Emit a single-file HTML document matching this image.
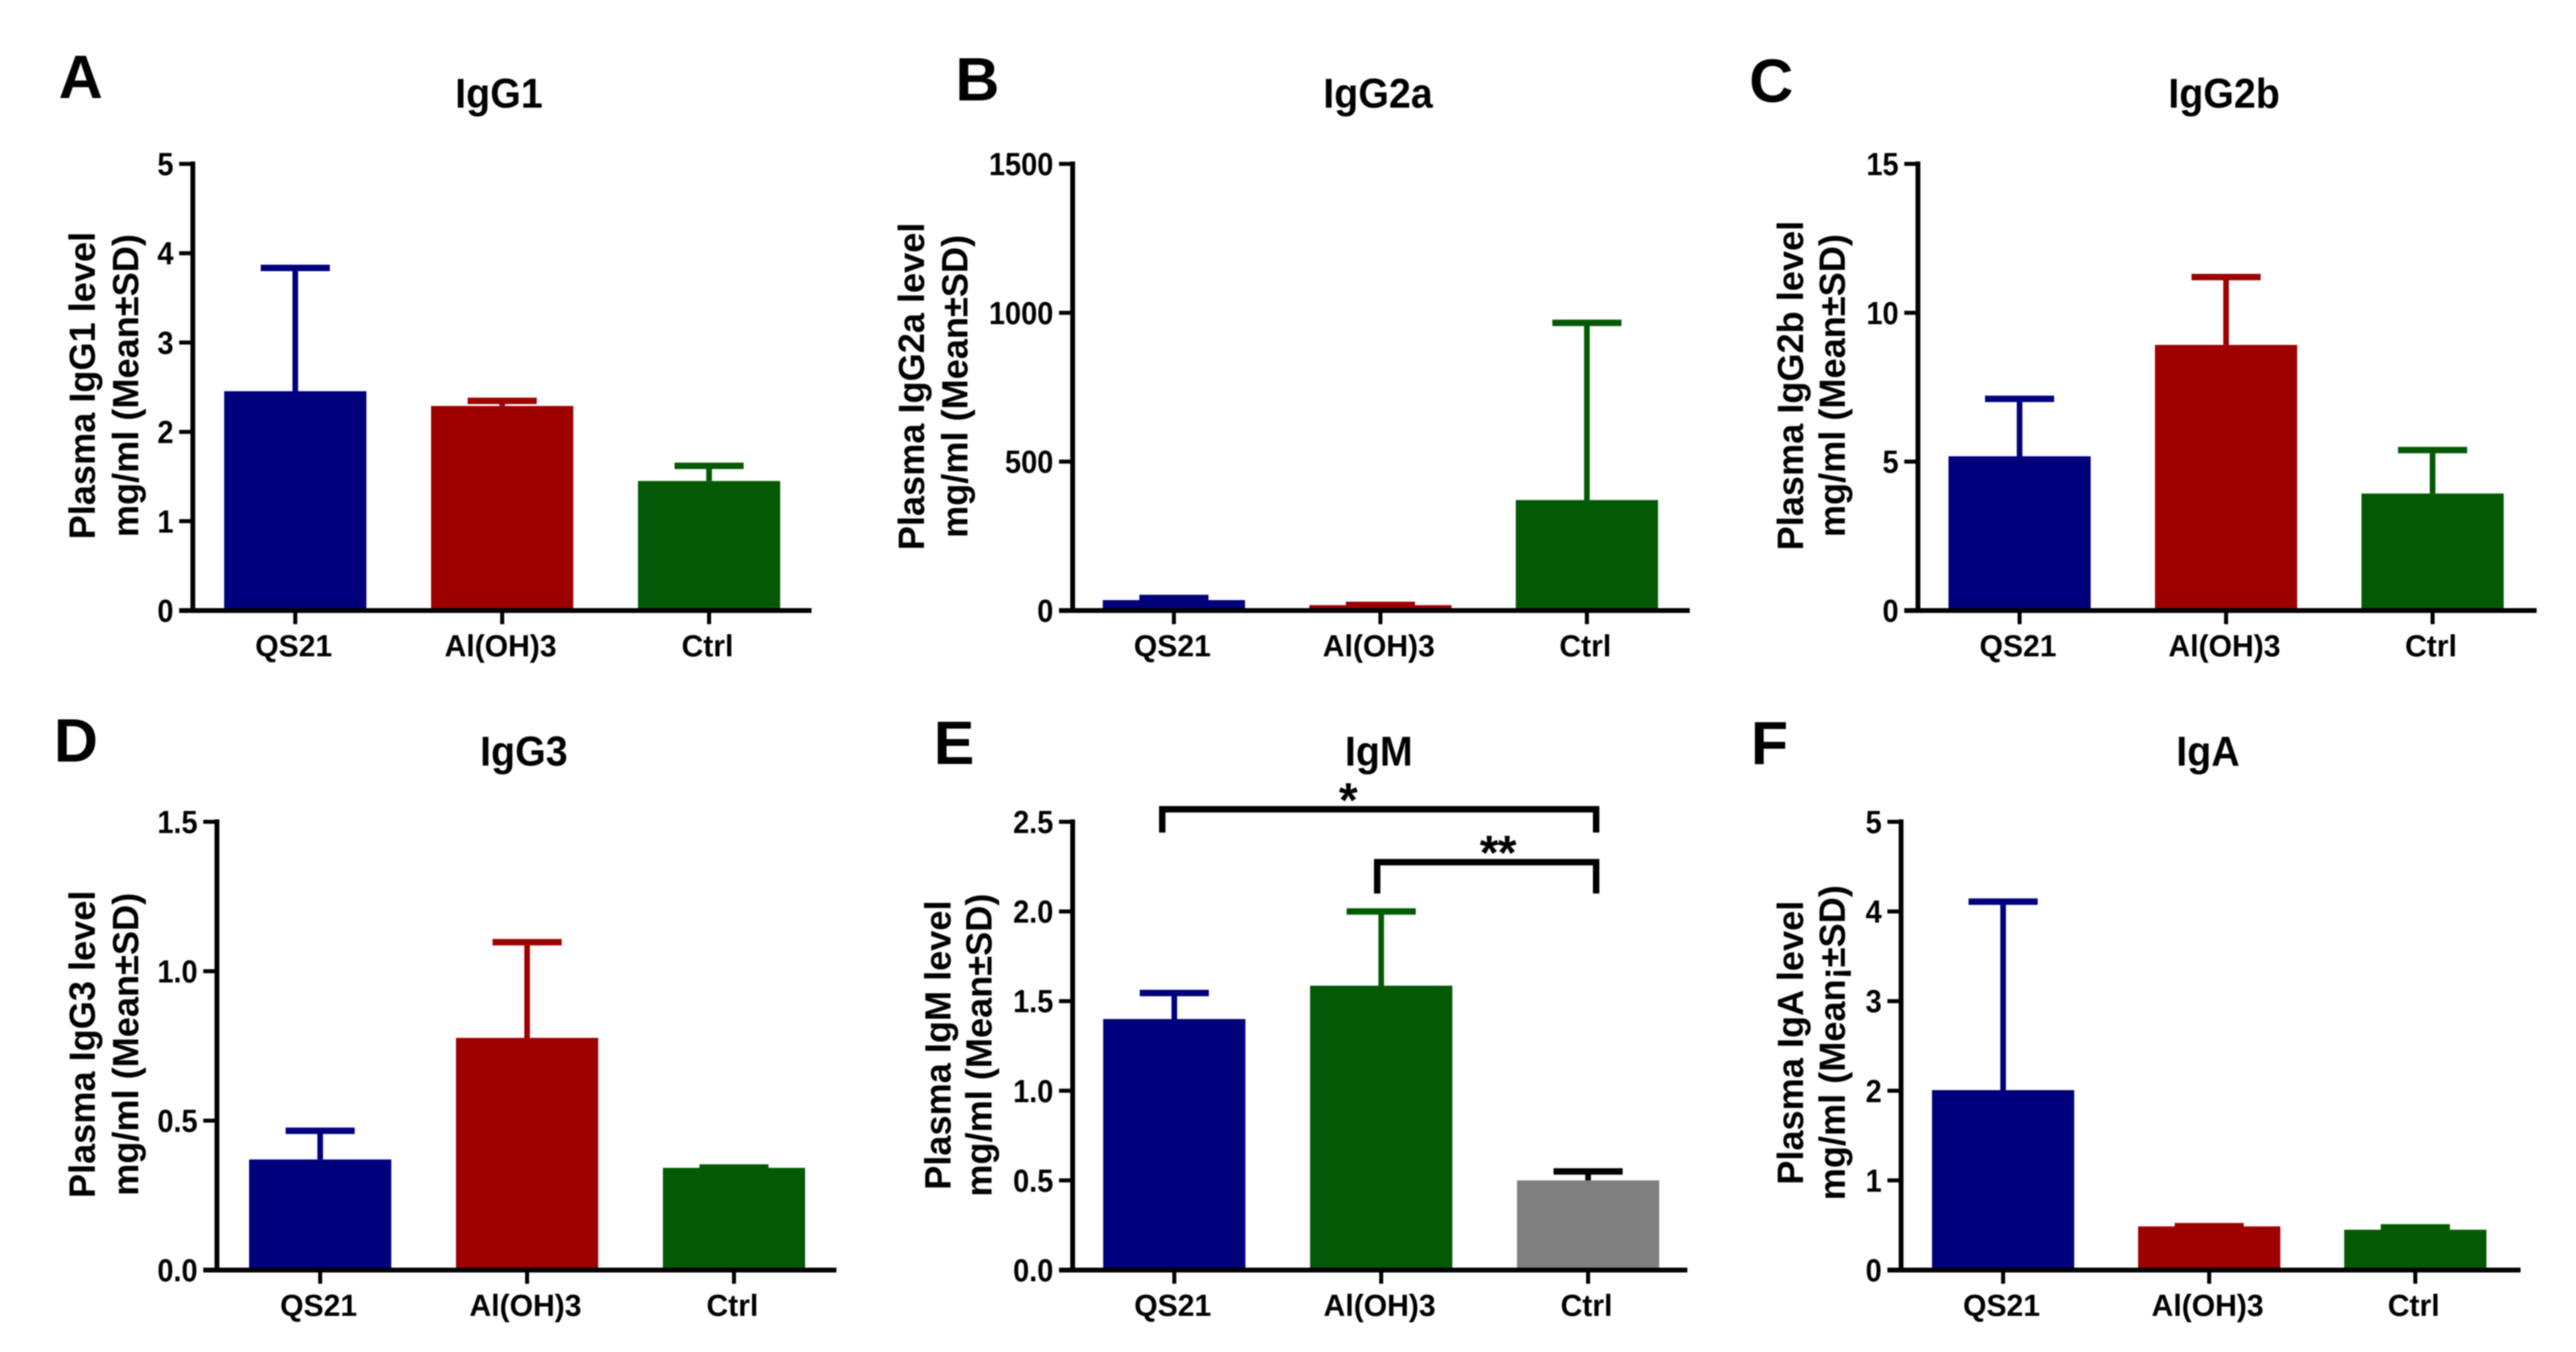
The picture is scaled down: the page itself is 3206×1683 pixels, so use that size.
<!DOCTYPE html>
<html lang="en">
<head>
<meta charset="utf-8">
<title>Plasma immunoglobulin levels</title>
<style>
  html, body { margin: 0; padding: 0; background: #fff; }
  body { width: 3206px; height: 1683px; overflow: hidden; }
  svg { display: block; filter: blur(0.7px); }
  text { font-family: "Liberation Sans", "DejaVu Sans", sans-serif; font-weight: bold; fill: #000; }
</style>
</head>
<body>
<svg id="figure" xmlns="http://www.w3.org/2000/svg" width="3206" height="1683" viewBox="0 0 3206 1683">
  <rect x="0" y="0" width="3206" height="1683" fill="#ffffff"></rect>
</svg>
<script>
// ---- chart data ----
const categories = ['QS21', 'Al(OH)3', 'Ctrl'];

const igg1Means = [2.455, 2.29, 1.45];
const igg1Sds = [1.38, 0.057, 0.17];
const igg1Ticks = ['0', '1', '2', '3', '4', '5'];

const igg2aMeans = [35, 18, 371];
const igg2aSds = [7, 1, 595];
const igg2aTicks = ['0', '500', '1000', '1500'];

const igg2bMeans = [5.18, 8.92, 3.93];
const igg2bSds = [1.93, 2.28, 1.46];
const igg2bTicks = ['0', '5', '10', '15'];

const igg3Means = [0.37, 0.777, 0.342];
const igg3Sds = [0.096, 0.32, 0.001];
const igg3Ticks = ['0.0', '0.5', '1.0', '1.5'];

const igmMeans = [1.40, 1.586, 0.50];
const igmSds = [0.145, 0.414, 0.05];
const igmTicks = ['0.0', '0.5', '1.0', '1.5', '2.0', '2.5'];

const igaMeans = [2.007, 0.487, 0.45];
const igaSds = [2.103, 0.003, 0.026];
const igaTicks = ['0', '1', '2', '3', '4', '5'];

const BLUE = '#00007d', RED = '#9e0000', GREEN = '#045a04', GRAY = '#808080', BLACK = '#000000';

// ---- panel definitions (layout kept apart from the values above) ----
const panels = [
  { key: 'igg1', letter: 'A', title: 'IgG1', means: igg1Means, sds: igg1Sds, ticks: igg1Ticks,
    line1: 'Plasma IgG1 level', line2: 'mg/ml (Mean\u00b1SD)',
    axisX: 240, axisEnd: 1010, top: 204, bottom: 760, firstBar: 367.5, step: 257.5,
    letterX: 73, letterY: 122, titleX: 621, titleY: 134, l1X: 118, l2X: 172, labelY: 480,
    fills: [BLUE, RED, GREEN], errs: [BLUE, RED, GREEN] },
  { key: 'igg2a', letter: 'B', title: 'IgG2a', means: igg2aMeans, sds: igg2aSds, ticks: igg2aTicks,
    line1: 'Plasma IgG2a level', line2: 'mg/ml (Mean\u00b1SD)',
    axisX: 1335, axisEnd: 2103, top: 204, bottom: 760, firstBar: 1461, step: 257,
    letterX: 1189, letterY: 125, titleX: 1715, titleY: 134, l1X: 1150, l2X: 1204, labelY: 481,
    fills: [BLUE, RED, GREEN], errs: [BLUE, RED, GREEN] },
  { key: 'igg2b', letter: 'C', title: 'IgG2b', means: igg2bMeans, sds: igg2bSds, ticks: igg2bTicks,
    line1: 'Plasma IgG2b level', line2: 'mg/ml (Mean\u00b1SD)',
    axisX: 2387, axisEnd: 3157, top: 204, bottom: 760, firstBar: 2513.5, step: 257,
    letterX: 2177, letterY: 127, titleX: 2768, titleY: 134, l1X: 2244, l2X: 2296, labelY: 480,
    fills: [BLUE, RED, GREEN], errs: [BLUE, RED, GREEN] },
  { key: 'igg3', letter: 'D', title: 'IgG3', means: igg3Means, sds: igg3Sds, ticks: igg3Ticks,
    line1: 'Plasma IgG3 level', line2: 'mg/ml (Mean\u00b1SD)',
    axisX: 270, axisEnd: 1041, top: 1023, bottom: 1581, firstBar: 398.5, step: 257.5,
    letterX: 67, letterY: 948, titleX: 652, titleY: 953, l1X: 118, l2X: 172, labelY: 1300,
    fills: [BLUE, RED, GREEN], errs: [BLUE, RED, GREEN] },
  { key: 'igm', letter: 'E', title: 'IgM', means: igmMeans, sds: igmSds, ticks: igmTicks,
    line1: 'Plasma IgM level', line2: 'mg/ml (Mean\u00b1SD)',
    axisX: 1335, axisEnd: 2100, top: 1023, bottom: 1581, firstBar: 1461.5, step: 257.5,
    letterX: 1162, letterY: 951, titleX: 1716, titleY: 953, l1X: 1183, l2X: 1234, labelY: 1301,
    fills: [BLUE, GREEN, GRAY], errs: [BLUE, GREEN, BLACK] },
  { key: 'iga', letter: 'F', title: 'IgA', means: igaMeans, sds: igaSds, ticks: igaTicks,
    line1: 'Plasma IgA level', line2: 'mg/ml (Mean\u00a1\u00b1SD)',
    axisX: 2366, axisEnd: 3137, top: 1023, bottom: 1581, firstBar: 2493, step: 256.5,
    letterX: 2179, letterY: 951, titleX: 2748, titleY: 953, l1X: 2244, l2X: 2296, labelY: 1298,
    fills: [BLUE, RED, GREEN], errs: [BLUE, RED, GREEN] }
];

// significance brackets on the IgM panel: value levels in axis units
const bracketFrom = [0, 1];
const bracketTo = [2, 2];
const bracketLevels = [2.57, 2.275];
const bracketDrops = [2.44, 2.10];
const bracketMarks = ['*', '**'];

const NS = 'http://www.w3.org/2000/svg';
const root = document.getElementById('figure');

function make(tag, attrs, parent, content) {
  const el = document.createElementNS(NS, tag);
  for (const k in attrs) el.setAttribute(k, attrs[k]);
  if (content !== undefined) el.textContent = content;
  parent.appendChild(el);
  return el;
}

function label(el, name) {
  
  
  return el;
}

function drawPanel(p) {
  const maxV = parseFloat(p.ticks[p.ticks.length - 1]);
  const y = v => p.bottom - (v / maxV) * (p.bottom - p.top);
  const x = i => p.firstBar + i * p.step;
  const g = label(make('g', {}, root), p.key + '-panel');

  label(make('text', { x: p.letterX, y: p.letterY, 'font-size': 76 }, g, p.letter), 'panel-letter-' + p.letter.toLowerCase());
  label(make('text', { transform: 'translate(' + p.titleX + ',' + p.titleY + ') scale(1,1.06)', 'text-anchor': 'middle', 'font-size': 49 }, g, p.title), p.key + '-title');

  label(make('text', { transform: 'translate(' + p.l1X + ',' + p.labelY + ') rotate(-90)', 'text-anchor': 'middle', 'font-size': 45 }, g, p.line1), p.key + '-y-axis-title');
  label(make('text', { transform: 'translate(' + p.l2X + ',' + p.labelY + ') rotate(-90)', 'text-anchor': 'middle', 'font-size': 45 }, g, p.line2), p.key + '-y-axis-unit');

  // bars and error bars
  p.means.forEach((m, i) => {
    const cx = x(i), hi = m + p.sds[i];
    label(make('rect', { x: cx - 88.5, y: y(m), width: 177, height: p.bottom - y(m), fill: p.fills[i] }, g), p.key + '-bar-' + i);
    label(make('line', { x1: cx, x2: cx, y1: y(m), y2: y(hi), stroke: p.errs[i], 'stroke-width': 7 }, g), p.key + '-error-stem-' + i);
    label(make('line', { x1: cx - 43, x2: cx + 43, y1: y(hi), y2: y(hi), stroke: p.errs[i], 'stroke-width': 8 }, g), p.key + '-error-cap-' + i);
  });

  // axes
  label(make('line', { x1: p.axisX, x2: p.axisX, y1: p.top - 3, y2: p.bottom + 3, stroke: '#000', 'stroke-width': 6 }, g), p.key + '-y-axis');
  label(make('line', { x1: p.axisX - 17, x2: p.axisEnd, y1: p.bottom, y2: p.bottom, stroke: '#000', 'stroke-width': 6 }, g), p.key + '-x-axis');

  p.ticks.forEach(t => {
    const ty = y(parseFloat(t));
    label(make('line', { x1: p.axisX - 17, x2: p.axisX, y1: ty, y2: ty, stroke: '#000', 'stroke-width': 5 }, g), p.key + '-y-tick-' + t);
    label(make('text', { transform: 'translate(' + (p.axisX - 24) + ',' + (ty + 14) + ') scale(0.95,1.05)', 'text-anchor': 'end', 'font-size': 38 }, g, t), p.key + '-y-tick-label-' + t);
  });

  categories.forEach((c, i) => {
    label(make('line', { x1: x(i), x2: x(i), y1: p.bottom, y2: p.bottom + 17, stroke: '#000', 'stroke-width': 5 }, g), p.key + '-x-tick-' + i);
    label(make('text', { transform: 'translate(' + (x(i) - 2) + ',' + (p.bottom + 57) + ') scale(1,1.02)', 'text-anchor': 'middle', 'font-size': 37.5 }, g, c), p.key + '-x-label-' + i);
  });

  if (p.key === 'igm') {
    const dxLeft = [-15, -5];
    const dxRight = 10;
    bracketLevels.forEach((lv, b) => {
      const x1 = x(bracketFrom[b]) + dxLeft[b], x2 = x(bracketTo[b]) + dxRight;
      const yt = y(lv), yb = y(bracketDrops[b]);
      label(make('path', { d: 'M' + x1 + ' ' + yb + 'V' + yt + 'H' + x2 + 'V' + yb, fill: 'none', stroke: '#000', 'stroke-width': 8 }, g), 'significance-bracket-' + b);
      label(make('text', { x: b === 0 ? x1 + 231 : x1 + 150, y: yt + 9, 'text-anchor': 'middle', 'font-size': 60, 'letter-spacing': -1 }, g, bracketMarks[b]), 'significance-mark-' + b);
    });
  }
}

panels.forEach(drawPanel);
</script>
</body>
</html>
